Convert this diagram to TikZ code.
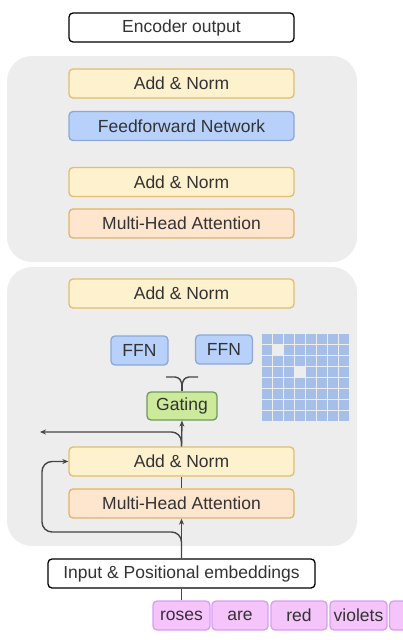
\documentclass[tikz,border=0pt]{standalone}
\usepackage{fontspec}
\setmainfont{Liberation Sans}
\usetikzlibrary{arrows.meta}

\definecolor{panelfill}{HTML}{EDEDED}
\definecolor{txt}{HTML}{333333}
\definecolor{linecol}{HTML}{454545}
\definecolor{normfill}{HTML}{FEF1CD}
\definecolor{normline}{HTML}{E3BE6E}
\definecolor{attfill}{HTML}{FDE5CE}
\definecolor{attline}{HTML}{E2B462}
\definecolor{ffnfill}{HTML}{B8D1FA}
\definecolor{ffnline}{HTML}{8EA8D2}
\definecolor{gatefill}{HTML}{CDEA9B}
\definecolor{gateline}{HTML}{6E9A62}
\definecolor{tokfill}{HTML}{F4C4FA}
\definecolor{tokline}{HTML}{D89DF0}
\definecolor{cellcol}{HTML}{A5BFE8}

\begin{document}
\begin{tikzpicture}[x=1pt,y=-1pt,
	box/.style={draw, rounded corners=4pt, line width=1.3pt, minimum width=225pt,
		minimum height=29pt, inner sep=0pt, text=txt, font=\fontsize{17.5}{20}\selectfont},
	norm/.style={box, fill=normfill, draw=normline},
	att/.style={box, fill=attfill, draw=attline},
	ffn/.style={box, fill=ffnfill, draw=ffnline},
	small/.style={minimum width=57pt},
	plain/.style={box, fill=white, draw=black},
	gate/.style={box, fill=gatefill, draw=gateline, minimum width=70pt, minimum height=28pt},
	tok/.style={box, fill=tokfill, draw=tokline, minimum width=56pt},
	conn/.style={draw=linecol, line width=1.4pt},
	arr/.style={conn, -{Stealth[length=6pt,width=5pt]}}]
	\useasboundingbox (0,0) rectangle (402,640);

	% panels
	\fill[panelfill, rounded corners=25pt] (7,56) rectangle (357,262);
	\fill[panelfill, rounded corners=25pt] (7,267) rectangle (357,546);

	\node[plain] (encout) at (181.5,27.5) {Encoder output};

	% upper layer
	\node[norm] (normD) at (181.5,83.5) {Add \& Norm};
	\node[ffn] (ffnfull) at (181.5,126) {Feedforward Network};
	\node[norm] (normC) at (181.5,182) {Add \& Norm};
	\node[att] (mhaA) at (181.5,223.5) {Multi-Head Attention};

	% lower layer
	\node[norm] (normB) at (181.5,293.5) {Add \& Norm};
	\node[ffn, small] (ffnA) at (139.5,350.5) {FFN};
	\node[ffn, small] (ffnB) at (224,349.5) {FFN};
	\node[gate] (gate) at (182,406) {Gating};
	\node[norm] (normA) at (181.5,461.5) {Add \& Norm};
	\node[att] (mhaB) at (181.5,503.5) {Multi-Head Attention};

	% expert grid
	\foreach \i in {0,...,7} {
		\foreach \j in {0,...,7} {
			\pgfmathparse{(\i==1 && \j==1) || (\i==3 && \j==3) ? 0 : 1}
			\ifnum\pgfmathresult=1
				\fill[cellcol] (262+11*\i,334+11*\j) rectangle ++(10,10);
			\fi
		}
	}

	\node[plain, minimum width=267pt] (embed) at (181.5,573.5) {Input \& Positional embeddings};

	% tokens
	\node[tok, minimum width=57pt] (tokA) at (181.5,615.5) {roses};
	\node[tok] (tokB) at (240,615.5) {are};
	\node[tok] (tokC) at (299,615.5) {red};
	\node[tok, minimum width=57pt] (tokD) at (358.5,615.5) {violets};
	\node[tok] (tokE) at (417.5,615.5) {};

	% connectors
	\coordinate (skipin) at (42,532);
	\coordinate (skipout) at (40,432);
	\coordinate (brace) at (182,386);
	\draw[conn] (tokA.north) -- (embed.south);
	\draw[arr] (embed.north) -- (mhaB.south);
	\draw[arr, rounded corners=10pt] (embed.north) |- (skipin) |- (normA.west);
	\draw[conn] (mhaB.north) -- (normA.south);
	\draw[arr] (normA.north) -- (gate.south);
	\draw[arr, rounded corners=10pt] (normA.north) |- (skipout);
	\draw[conn] (gate.north) -- (brace);
	\draw[conn] (166,377) -- (175,377) to[out=0,in=90] (brace);
	\draw[conn] (198,377) -- (189,377) to[out=180,in=90] (brace);
\end{tikzpicture}
\end{document}
